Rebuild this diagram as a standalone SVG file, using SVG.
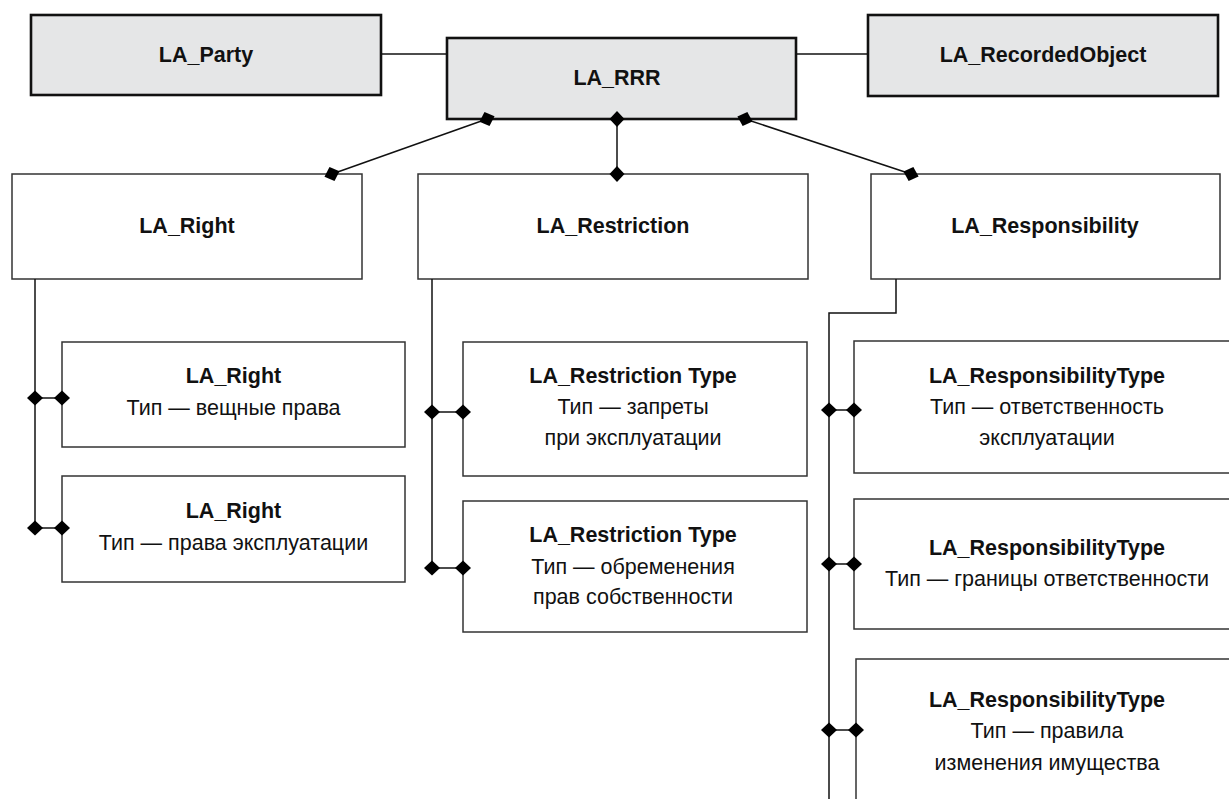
<svg xmlns="http://www.w3.org/2000/svg" width="1229" height="799" viewBox="0 0 1229 799">
  <style>
    .main { fill: #e5e6e7; stroke: #111; stroke-width: 2.6; }
    .box { fill: #fff; stroke: #333; stroke-width: 1.5; }
    .conn { fill: none; stroke: #111; stroke-width: 1.5; }
    text { font-family: "Liberation Sans", Arial, sans-serif; fill: #111; text-anchor: middle; }
    .h1 { font-size: 21.5px; font-weight: bold; }
    .h2 { font-size: 21.5px; font-weight: bold; }
    .t { font-size: 21.5px; }
  </style>
  <defs>
    <marker id="dia" viewBox="-8 -8 16 16" markerWidth="16" markerHeight="16" markerUnits="userSpaceOnUse" orient="auto">
      <path d="M-8,0 L0,-7.5 L8,0 L0,7.5 Z" fill="#000"/>
    </marker>
  </defs>

  <rect width="1229" height="799" fill="#fff"/>

  <!-- top row -->
  <g id="la-party">
    <rect class="main" x="31" y="15" width="350" height="80"/>
    <text class="h1" x="206" y="62">LA_Party</text>
  </g>
  <g id="la-rrr">
    <rect class="main" x="447" y="38" width="349" height="81"/>
    <text class="h1" x="617" y="85">LA_RRR</text>
  </g>
  <g id="la-recordedobject">
    <rect class="main" x="868" y="15" width="350" height="81"/>
    <text class="h1" x="1043" y="62">LA_RecordedObject</text>
  </g>

  <!-- second row -->
  <g id="la-right">
    <rect class="box" x="12" y="174" width="350" height="105"/>
    <text class="h2" x="187" y="233">LA_Right</text>
  </g>
  <g id="la-restriction">
    <rect class="box" x="418" y="174" width="390" height="105"/>
    <text class="h2" x="613" y="233">LA_Restriction</text>
  </g>
  <g id="la-responsibility">
    <rect class="box" x="871" y="174" width="349" height="105"/>
    <text class="h2" x="1045" y="233">LA_Responsibility</text>
  </g>

  <!-- right types -->
  <g id="right-type-1">
    <rect class="box" x="62" y="342" width="343" height="105"/>
    <text class="h2" x="233.5" y="383">LA_Right</text>
    <text class="t" x="233.5" y="415">Тип — вещные права</text>
  </g>
  <g id="right-type-2">
    <rect class="box" x="62" y="476" width="343" height="106"/>
    <text class="h2" x="233.5" y="518">LA_Right</text>
    <text class="t" x="233.5" y="550">Тип — права эксплуатации</text>
  </g>

  <!-- restriction types -->
  <g id="restriction-type-1">
    <rect class="box" x="463" y="342" width="344" height="134"/>
    <text class="h2" x="633" y="383">LA_Restriction Type</text>
    <text class="t" x="633" y="414">Тип — запреты</text>
    <text class="t" x="633" y="445">при эксплуатации</text>
  </g>
  <g id="restriction-type-2">
    <rect class="box" x="463" y="501" width="344" height="131"/>
    <text class="h2" x="633" y="542">LA_Restriction Type</text>
    <text class="t" x="633" y="574">Тип — обременения</text>
    <text class="t" x="633" y="604">прав собственности</text>
  </g>

  <!-- responsibility types -->
  <g id="responsibility-type-1">
    <rect class="box" x="854" y="341" width="390" height="132"/>
    <text class="h2" x="1047" y="383">LA_ResponsibilityType</text>
    <text class="t" x="1047" y="414">Тип — ответственность</text>
    <text class="t" x="1047" y="445">эксплуатации</text>
  </g>
  <g id="responsibility-type-2">
    <rect class="box" x="854" y="499" width="390" height="130"/>
    <text class="h2" x="1047" y="555">LA_ResponsibilityType</text>
    <text class="t" x="1047" y="586">Тип — границы ответственности</text>
  </g>
  <g id="responsibility-type-3">
    <rect class="box" x="856" y="659" width="390" height="160"/>
    <text class="h2" x="1047" y="707">LA_ResponsibilityType</text>
    <text class="t" x="1047" y="738">Тип — правила</text>
    <text class="t" x="1047" y="770">изменения имущества</text>
  </g>

  <!-- connectors, drawn last so the diamonds sit on the box edges -->
  <g id="connectors">
    <line class="conn" x1="381" y1="54" x2="447" y2="54"/>
    <line class="conn" x1="796" y1="54" x2="868" y2="54"/>
    <line class="conn" x1="487" y1="119" x2="332" y2="174" marker-start="url(#dia)" marker-end="url(#dia)"/>
    <line class="conn" x1="617" y1="119" x2="617" y2="174" marker-start="url(#dia)" marker-end="url(#dia)"/>
    <line class="conn" x1="745" y1="119" x2="911" y2="174" marker-start="url(#dia)" marker-end="url(#dia)"/>

    <!-- LA_Right branch -->
    <polyline class="conn" points="35,279 35,528"/>
    <line class="conn" x1="35" y1="398" x2="62" y2="398" marker-start="url(#dia)" marker-end="url(#dia)"/>
    <line class="conn" x1="35" y1="528" x2="62" y2="528" marker-start="url(#dia)" marker-end="url(#dia)"/>

    <!-- LA_Restriction branch -->
    <polyline class="conn" points="432,279 432,568"/>
    <line class="conn" x1="432" y1="412" x2="463" y2="412" marker-start="url(#dia)" marker-end="url(#dia)"/>
    <line class="conn" x1="432" y1="568" x2="463" y2="568" marker-start="url(#dia)" marker-end="url(#dia)"/>

    <!-- LA_Responsibility branch -->
    <polyline class="conn" points="896,279 896,313 829,313 829,805"/>
    <line class="conn" x1="829" y1="410" x2="854" y2="410" marker-start="url(#dia)" marker-end="url(#dia)"/>
    <line class="conn" x1="829" y1="564" x2="854" y2="564" marker-start="url(#dia)" marker-end="url(#dia)"/>
    <line class="conn" x1="829" y1="730" x2="856" y2="730" marker-start="url(#dia)" marker-end="url(#dia)"/>
  </g>
</svg>
